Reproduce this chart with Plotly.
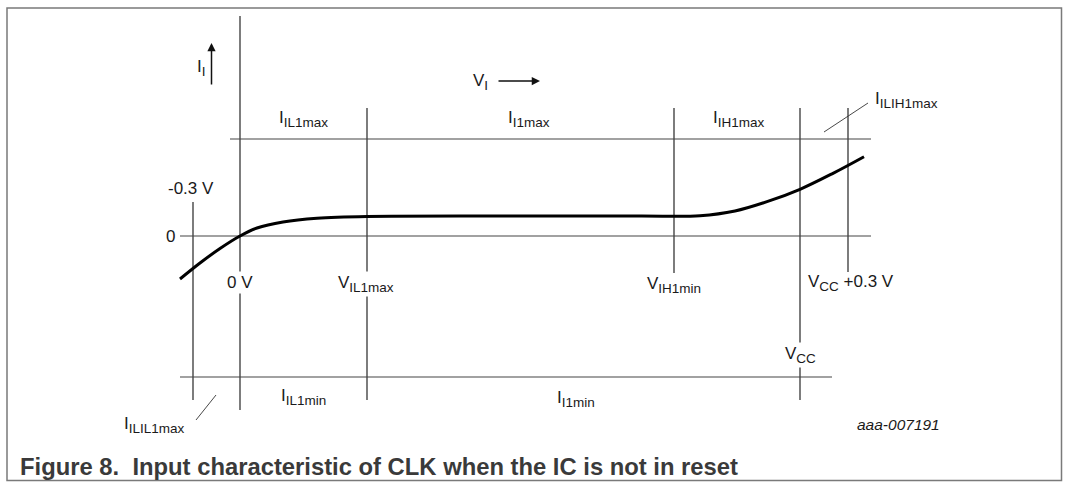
import plotly.graph_objects as go

W, H = 1065, 483

# Vertical reference lines (voltage levels): x position, top, bottom
v_x      = [193, 240, 367, 674, 800, 848]
v_top    = [202, 16, 108, 108, 108, 108]
v_bottom = [400, 410, 400, 273, 400, 272]

# Horizontal reference lines (current levels): y position, left, right
h_y     = [139, 236, 377]
h_left  = [230, 180, 180]
h_right = [871, 871, 832]

# Input characteristic curve (I_I versus V_I)
curve_x = [180, 200, 220, 240, 257, 283, 317, 367, 500, 640, 700, 735, 767, 800, 833, 864]
curve_y = [279, 263, 248.5, 236, 228, 222, 218.3, 216.5, 216, 216, 215.7, 211, 201.7, 189.3, 173.3, 156.7]

SUB = '<sub><span style="font-size:13.5px">{}</span></sub>'

# Labels: text, x, y, anchor, masked background
labels = [
    ("-0.3 V", 191, 188, "center", False),
    ("0", 170, 236, "center", False),
    ("I" + SUB.format("I"), 201, 68, "center", False),
    ("V" + SUB.format("I"), 480, 82, "center", False),
    ("I" + SUB.format("IL1max"), 303, 119, "center", False),
    ("I" + SUB.format("I1max"), 529, 119, "center", False),
    ("I" + SUB.format("IH1max"), 738, 119, "center", False),
    ("I" + SUB.format("ILIH1max"), 873, 100, "left", False),
    ("0 V", 240, 282, "center", True),
    ("V" + SUB.format("IL1max"), 366, 284, "center", True),
    ("V" + SUB.format("IH1min"), 674, 285, "center", False),
    ("V" + SUB.format("CC") + " +0.3 V", 806, 283, "left", False),
    ("V" + SUB.format("CC"), 800, 355, "center", True),
    ("I" + SUB.format("IL1min"), 303, 397, "center", False),
    ("I" + SUB.format("I1min"), 576, 399, "center", False),
    ("I" + SUB.format("ILIL1max"), 122, 425, "left", False),
]

# Leader lines for small-region labels
leader_x = [[824, 868], [196, 216]]
leader_y = [[132, 103], [420, 395]]

fig = go.Figure()

lx, ly = [], []
for x, t, b in zip(v_x, v_top, v_bottom):
    lx += [x, x, None]
    ly += [t, b, None]
fig.add_trace(go.Scatter(x=lx, y=ly, mode="lines", line=dict(color="#111111", width=1.1),
                         hoverinfo="skip", showlegend=False))

hx, hy = [], []
for y, l, r in zip(h_y, h_left, h_right):
    hx += [l, r, None]
    hy += [y, y, None]
fig.add_trace(go.Scatter(x=hx, y=hy, mode="lines", line=dict(color="#444444", width=1.2),
                         hoverinfo="skip", showlegend=False))

for xs, ys in zip(leader_x, leader_y):
    fig.add_trace(go.Scatter(x=xs, y=ys, mode="lines", line=dict(color="#333333", width=0.9),
                             hoverinfo="skip", showlegend=False))

fig.add_trace(go.Scatter(x=curve_x, y=curve_y, mode="lines",
                         line=dict(color="#000000", width=3, shape="spline", smoothing=1.0),
                         hoverinfo="skip", showlegend=False))

font = dict(family="Arial, Liberation Sans, sans-serif", size=17, color="#1a1a1a")
for text, x, y, anc, mask in labels:
    fig.add_annotation(x=x, y=y, text=text, showarrow=False, xanchor=anc, yanchor="middle",
                       font=font, bgcolor="white" if mask else "rgba(0,0,0,0)", borderpad=1)

# Axis arrows
fig.add_annotation(x=211.5, y=43, ax=211.5, ay=86, axref="x", ayref="y", text="",
                   showarrow=True, arrowhead=2, arrowsize=1.1, arrowwidth=1.5, arrowcolor="#111111")
fig.add_annotation(x=540, y=81, ax=497, ay=81, axref="x", ayref="y", text="",
                   showarrow=True, arrowhead=2, arrowsize=1.1, arrowwidth=1.5, arrowcolor="#111111")

fig.add_annotation(x=898, y=424, text="<i>aaa-007191</i>", showarrow=False, xanchor="center",
                   yanchor="middle", font=dict(family="Arial, Liberation Sans, sans-serif", size=15.5, color="#1a1a1a"))

fig.add_annotation(x=18, y=466, text="<b>Figure 8.  Input characteristic of CLK when the IC is not in reset</b>",
                   showarrow=False, xanchor="left", yanchor="middle",
                   font=dict(family="Arial, Liberation Sans, sans-serif", size=23.8, color="#3a3a3a"))

fig.add_shape(type="rect", x0=7, y0=8, x1=1061.5, y1=480.5, line=dict(color="#7a7a7a", width=1.5))

fig.update_layout(
    width=W, height=H, margin=dict(l=0, r=0, t=0, b=0),
    paper_bgcolor="white", plot_bgcolor="white",
    xaxis=dict(range=[0, W], visible=False, fixedrange=True),
    yaxis=dict(range=[H, 0], visible=False, fixedrange=True),
    showlegend=False,
)

fig.write_html("out.html", config={"displayModeBar": False},
               post_script="document.body.style.margin='0';document.body.style.padding='0';document.body.style.overflow='hidden';")
